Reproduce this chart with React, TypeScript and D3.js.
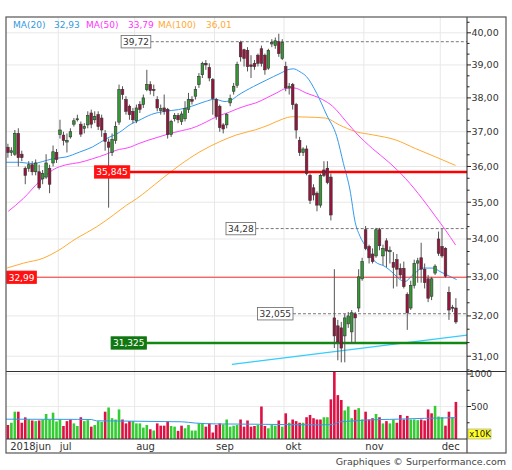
import React from 'react';
import * as d3 from 'd3';

// ---- DATA ----
// trading days from 2018-06-11 to 2018-12-07, index 0..129
const opens = [36.55,36.40,36.35,36.95,36.35,35.95,35.95,36.05,35.85,35.85,35.65,35.70,35.95,36.10,36.40,
36.92,36.90,36.70,36.85,37.22,37.35,37.22,37.10,37.20,37.55,37.35,37.50,37.40,36.95,36.70,36.40,36.75,37.28,38.25,37.95,37.75,37.60,
37.32,37.80,37.80,38.25,38.40,38.25,37.95,37.62,37.70,37.66,36.92,37.38,37.48,37.30,37.38,37.66,37.95,38.05,38.40,38.70,39.05,38.92,38.55,
37.95,37.75,37.20,37.20,37.85,38.20,38.38,39.70,39.47,39.45,39.00,39.05,39.30,39.50,39.30,38.90,39.65,39.60,39.72,39.20,
38.95,38.30,38.40,37.80,36.75,36.40,36.50,35.75,35.40,35.25,34.92,35.90,35.95,35.70,31.95,31.75,31.70,31.50,31.80,31.60,32.05,32.20,32.95,
34.25,33.80,33.60,33.55,34.25,33.55,33.95,33.66,33.38,33.45,33.22,33.22,32.55,32.20,32.78,33.36,33.50,33.20,32.95,32.50,33.10,34.00,
33.80,33.75,32.60,32.22,32.20];
const highs = [36.65,36.55,37.05,37.10,36.45,36.00,36.15,36.15,36.20,36.05,35.90,36.35,36.05,36.60,36.50,
37.35,37.00,36.95,37.10,37.40,37.50,37.30,37.25,37.60,37.65,37.60,37.60,37.50,37.05,36.80,36.95,37.30,38.40,38.35,38.05,37.80,37.70,
37.80,37.90,38.10,38.85,38.50,38.40,38.05,37.80,38.10,37.70,37.35,37.55,37.55,37.60,37.90,38.15,38.05,38.35,38.75,39.10,39.15,39.05,38.60,
38.00,37.80,37.25,37.55,38.10,38.45,39.10,39.75,39.50,39.55,39.30,39.15,39.35,39.60,39.35,39.50,39.80,39.85,39.97,39.80,
39.10,38.45,38.45,37.85,36.85,36.55,36.60,35.80,35.50,35.30,35.80,36.15,36.15,35.80,33.20,31.90,31.85,32.05,32.10,32.15,32.10,33.20,33.50,
34.35,33.85,33.75,34.30,34.30,33.85,34.02,33.80,33.65,33.60,33.35,33.40,32.60,32.90,33.45,33.50,33.90,33.35,33.05,33.00,33.33,34.20,
34.28,33.78,32.75,32.28,32.45];
const lows = [36.25,36.30,36.30,36.00,36.15,35.50,35.85,35.75,35.75,35.35,35.50,35.65,35.25,36.00,36.10,
36.80,36.60,36.40,36.80,37.15,37.30,36.85,36.95,37.10,37.10,37.25,37.05,36.85,36.45,34.85,36.30,36.65,37.20,37.95,37.50,37.35,37.25,
37.25,37.55,37.70,38.20,38.10,38.05,37.60,37.50,37.50,36.80,36.85,37.30,37.25,37.20,37.30,37.55,37.80,37.95,38.30,38.60,38.85,38.50,37.50,
37.35,37.00,36.95,37.10,37.75,38.10,38.30,39.10,38.95,38.80,38.60,38.85,38.95,38.95,38.70,38.85,39.55,39.50,39.25,39.15,
38.20,38.10,37.65,36.80,36.30,36.30,35.75,34.95,35.05,34.75,34.85,35.70,35.50,34.50,31.20,30.90,30.85,30.85,31.70,31.30,31.30,32.10,32.90,
33.70,33.35,33.35,33.50,33.70,33.30,33.25,33.35,32.70,32.75,32.95,32.70,31.65,32.15,32.70,32.85,32.85,32.70,32.35,32.40,33.05,33.55,
33.50,32.98,31.90,32.10,31.80];
const closes = [36.40,36.45,36.95,36.25,36.25,35.75,36.05,35.85,36.10,35.40,35.80,36.10,35.50,36.42,36.20,
37.05,36.75,36.75,37.00,37.32,37.38,36.93,37.15,37.48,37.22,37.45,37.15,37.05,36.72,36.55,36.78,37.15,38.25,38.10,37.60,37.50,37.35,
37.70,37.66,38.00,38.40,38.22,38.22,37.70,37.68,37.60,36.92,37.30,37.48,37.35,37.52,37.68,37.95,37.90,38.25,38.65,39.05,39.00,38.60,37.98,
37.45,37.12,37.08,37.50,37.98,38.35,39.02,39.25,39.20,38.95,38.95,38.95,39.05,39.05,38.85,39.45,39.70,39.75,39.35,39.70,
38.30,38.35,37.80,37.05,36.40,36.50,35.80,35.05,35.20,34.92,35.75,35.75,35.55,34.65,31.50,31.35,31.20,31.95,32.00,32.08,31.95,33.00,33.40,
33.75,33.50,33.40,34.25,33.82,33.75,33.68,33.70,33.25,33.20,33.05,32.75,32.08,32.78,33.35,33.42,33.20,32.85,32.45,32.95,33.28,33.62,
33.55,33.02,32.15,32.20,31.85];

// volume in x10K and its direction (g = up, r = down)
const volumes = [215,250,420,420,250,333,300,285,275,285,300,385,300,405,270,300,200,275,300,240,200,335,275,290,190,215,275,265,420,485,
320,300,455,300,240,275,275,240,240,175,215,150,130,240,205,205,275,200,190,125,205,165,215,130,130,240,240,190,240,100,215,240,225,300,
190,205,215,300,190,285,190,200,
215,500,200,165,215,205,285,190,395,250,300,275,250,250,335,370,320,300,300,335,335,610,1035,675,600,440,500,320,450,475,300,420,300,320,
385,335,240,275,240,300,250,370,300,355,300,300,290,300,285,455,395,510,345,335,205,420,335,570];
const volumeDir = 'rggrrrgrgrggggggrrrggrggrgggrggggrrrgggggrgrrrrggrrggggggrrrrrgggggrrrrr' +
  'grrgggrgrgrrrgrrrrrggrrrrgggrggrrrgrgrggrrrrgggrrrrgggrrgr';

// moving averages: [day index, value]
const ma20: [number, number][] = [[-0.5,36.12],[3.3,36.12],[7.1,36.08],[10,36.14],[12.9,36.22],[16.7,36.27],[20.6,36.41],[24.4,36.56],
[28.2,36.79],[32.1,36.98],[35.4,37.22],[37.5,37.32],[41.4,37.51],[45.2,37.60],[49.1,37.65],[52.9,37.75],[56.8,37.89],[59.6,37.96],
[62.5,37.89],[64.4,37.94],[66.3,38.08],[70.7,38.34],[74.5,38.54],[78.4,38.74],[81.2,38.87],[82.2,38.88],[84.1,38.79],[86,38.64],
[88.9,38.14],[91.8,37.49],[94.7,36.86],[96.6,36.09],[98.5,35.34],[100,34.45],[101.4,34.07],[103.1,33.79],[105.7,33.40],[108.6,33.27],
[110.9,33.10],[112.9,32.93],[114.3,32.88],[116.6,33.05],[119.5,33.23],[122.4,33.23],[124.4,33.14],[126.4,33.05],[129.2,32.93]];
const ma50: [number, number][] = [[0.1,34.75],[4.4,35.10],[9,35.57],[12.9,35.90],[16.8,36.05],[20.5,36.11],[24.4,36.22],[28.3,36.35],
[31.1,36.46],[35.4,36.56],[37.5,36.65],[43.2,36.84],[46.1,36.93],[50,37.03],[52.9,37.10],[55.8,37.22],[58.7,37.37],[60.5,37.46],
[63.4,37.56],[66.2,37.68],[69.7,37.80],[71.4,37.85],[74.5,38.00],[77.4,38.15],[80,38.28],[82.3,38.30],[85.8,38.15],[90.6,37.95],
[93.5,37.75],[97.3,37.31],[100.2,36.97],[105,36.51],[109.7,36.12],[114.5,35.66],[119.3,35.10],[123.2,34.60],[126,34.24],[128.9,33.84]];
const ma100: [number, number][] = [[-0.3,33.23],[4.5,33.36],[10.2,33.49],[14.1,33.67],[19.8,34.02],[25.6,34.33],[30.4,34.65],[34.2,34.92],
[37.1,35.10],[43.8,35.61],[49.5,36.04],[55.3,36.42],[61,36.71],[65.9,36.91],[71.4,37.06],[75.2,37.20],[79.1,37.37],[81.9,37.44],
[85.8,37.43],[91.5,37.40],[95.4,37.20],[100.2,37.00],[105,36.91],[111.7,36.76],[117.4,36.51],[123.2,36.27],[128.9,36.03]];
const volMa: [number, number][] = [[-0.5,305],[10,303],[20,302],[24,300],[25.5,280],[35,275],[45,268],[50,265],[54,245],[60,232],
[70,228],[80,222],[90,218],[93.5,222],[95.5,262],[100,280],[103,292],[110,302],[120,318],[129,328]];
const trendLine: [number, number][] = [[64.5,30.80],[132.2,31.52]];

const legendNames = ['MA(20)', 'MA(50)', 'MA(100)'];
const legendValues = ['32,93', '33,79', '36,01'];

// horizontal levels: value, label, start day index, kind
const levelValues = [39.72, 35.845, 34.28, 32.99, 32.055, 31.325];
const levelLabels = ['39,72', '35,845', '34,28', '32,99', '32,055', '31,325'];
const levelStart = [32.6, 24.9, 62.8, -0.35, 71.9, 29.7];
const levelKind = ['dash', 'redThick', 'dash', 'redThin', 'dash', 'greenThick'];

const monthLabels = ['2018jun', 'jul', 'aug', 'sep', 'okt', 'nov', 'dec'];
const monthStart = [0, 15, 37, 60, 80, 103, 125];
const priceTicks = [31, 32, 33, 34, 35, 36, 37, 38, 39, 40];
const volTicks = [500, 1000];

const FONT = 'DejaVu Sans, Verdana, sans-serif';

export default function App() {
  const N = closes.length;
  const L = 6, R = 467, T = 17, MB = 371.5, VB = 439, DB = 453, FR = 506;
  const x = d3.scaleLinear().domain([0, N - 1]).range([7.9, 455.9]);
  const y = d3.scaleLog().domain([31, 40]).range([356.2, 32.8]);
  const yv = d3.scaleLinear().domain([0, 1000]).range([VB, 374]);
  const fmt = (v: number) => d3.format('.2f')(v).replace('.', ',');

  const lineP = d3.line<[number, number]>().x(d => x(d[0])).y(d => y(d[1])).curve(d3.curveMonotoneX);
  const lineV = d3.line<[number, number]>().x(d => x(d[0])).y(d => yv(d[1])).curve(d3.curveMonotoneX);

  const bw = 2.6;
  const minor: number[] = [];
  for (let k = 30; k <= 40; k++) { minor.push(k + 1 / 3, k + 2 / 3); }
  const [ymin, ymax] = [y.invert(MB), y.invert(T)];

  const textW = (s: string) => s.split('').reduce((a, c) => a + (c === ',' ? 2.9 : 5.7), 0);

  return (
    <svg width={512} height={470} style={{ position: 'absolute', left: 0, top: 0, background: '#fff' }} fontFamily={FONT}>
      <defs>
        <clipPath id="cmain"><rect x={L} y={T} width={R - L} height={MB - T} /></clipPath>
        <clipPath id="cvol"><rect x={L} y={MB} width={R - L} height={VB - MB} /></clipPath>
      </defs>
      <rect x={0} y={0} width={512} height={470} fill="#fff" />
      {/* grid */}
      {priceTicks.map(t => <line key={'hg' + t} x1={L} x2={R} y1={y(t)} y2={y(t)} stroke="#e8e8e8" strokeWidth={1} />)}
      {volTicks.map(t => <line key={'vg' + t} x1={L} x2={R} y1={yv(t)} y2={yv(t)} stroke="#ececec" strokeWidth={1} />)}
      {monthStart.slice(1).map(m => <line key={'vgl' + m} x1={x(m - 0.5)} x2={x(m - 0.5)} y1={T} y2={VB} stroke="#e8e8e8" strokeWidth={1} />)}

      <g clipPath="url(#cmain)">
        {/* MAs */}
        <path d={lineP(ma100) || ''} fill="none" stroke="#ffaa33" strokeWidth={1} />
        <path d={lineP(ma50) || ''} fill="none" stroke="#ff44ff" strokeWidth={1} />
        <path d={lineP(ma20) || ''} fill="none" stroke="#3399ee" strokeWidth={1} />
        <line x1={x(trendLine[0][0])} y1={y(trendLine[0][1])} x2={x(trendLine[1][0])} y2={y(trendLine[1][1])} stroke="#33ccff" strokeWidth={1.3} />
        {/* levels */}
        {levelValues.map((v, i) => {
          const kind = levelKind[i];
          const bx = x(levelStart[i]);
          const w = textW(levelLabels[i]) + 4;
          const ly = y(v);
          const stroke = kind === 'dash' ? '#777' : kind === 'greenThick' ? '#118811' : kind === 'redThick' ? '#ff0000' : '#ff3333';
          const sw = kind === 'dash' ? 1 : kind === 'redThin' ? 1 : 2.5;
          return (
            <line key={'lv' + i} x1={bx + w} x2={R} y1={ly} y2={ly} stroke={stroke} strokeWidth={sw} strokeDasharray={kind === 'dash' ? '3,2' : undefined} />
          );
        })}
        {/* candles */}
        {closes.map((c, i) => {
          const o = opens[i];
          const up = c >= o;
          const top = y(Math.max(o, c));
          const bot = y(Math.min(o, c));
          return (
            <g key={'c' + i}>
              <line x1={x(i)} x2={x(i)} y1={y(highs[i])} y2={y(lows[i])} stroke="#555" strokeWidth={1} />
              <rect x={x(i) - bw / 2} y={top} width={bw} height={Math.max(1, bot - top)} fill={up ? '#339933' : '#99143c'} stroke="#333" strokeWidth={0.6} />
            </g>
          );
        })}
        {/* level label boxes */}
        {levelValues.map((v, i) => {
          const kind = levelKind[i];
          const bx = x(levelStart[i]);
          const w = textW(levelLabels[i]) + 4;
          const ly = y(v);
          const fill = kind === 'dash' ? '#fff' : kind === 'greenThick' ? '#117711' : '#ff1111';
          const tc = kind === 'dash' ? '#333' : '#fff';
          return (
            <g key={'lb' + i}>
              <rect x={bx} y={ly - 6.2} width={w} height={12.4} fill={fill} stroke={kind === 'dash' ? '#666' : fill} strokeWidth={0.8} />
              <text x={bx + 2} y={ly + 3.4} fontSize={9} fill={tc}>{levelLabels[i]}</text>
            </g>
          );
        })}
      </g>

      {/* volume */}
      <g clipPath="url(#cvol)">
        {volumes.map((v, i) => (
          <rect key={'v' + i} x={x(i) - bw / 2} y={yv(v)} width={bw} height={VB - yv(v)} fill={volumeDir[i] === 'g' ? '#33cc33' : '#dd1144'} />
        ))}
        <path d={lineV(volMa) || ''} fill="none" stroke="#3399ee" strokeWidth={1} />
      </g>

      {/* legend */}
      {legendNames.map((n, i) => {
        const col = ['#3399dd', '#ff33ff', '#ffaa33'][i];
        const xs = [13, 86, 158][i];
        const xv = [54, 128, 206][i];
        return (
          <g key={'lg' + i} fontSize={9} fill={col}>
            <text x={xs} y={28}>{n}</text>
            <text x={xv} y={28}>{legendValues[i]}</text>
          </g>
        );
      })}

      {/* price axis */}
      {priceTicks.map(t => (
        <g key={'pt' + t}>
          <line x1={R} x2={R + 4} y1={y(t)} y2={y(t)} stroke="#222" strokeWidth={1} />
          <text x={R + 4.5} y={y(t) + 3.3} fontSize={9.5} fill="#333">{fmt(t)}</text>
        </g>
      ))}
      {minor.filter(m => m > ymin && m < ymax).map((m, i) => (
        <line key={'mt' + i} x1={R} x2={R + 2.5} y1={y(m)} y2={y(m)} stroke="#222" strokeWidth={1} />
      ))}
      {volTicks.map(t => (
        <g key={'vt' + t}>
          <line x1={R} x2={R + 4} y1={yv(t)} y2={yv(t)} stroke="#222" strokeWidth={1} />
          <text x={R + (t >= 1000 ? 2 : 4)} y={yv(t) + 3.3} fontSize={9} fill="#333">{t}</text>
        </g>
      ))}
      {[250, 750].map(t => <line key={'vm' + t} x1={R} x2={R + 2.5} y1={yv(t)} y2={yv(t)} stroke="#222" strokeWidth={1} />)}
      <rect x={468} y={429} width={23} height={10} fill="#ffff22" stroke="#999" strokeWidth={0.6} />
      <text x={469.3} y={437.3} fontSize={8.5} fill="#222">x10K</text>

      {/* month labels */}
      {monthLabels.map((m, i) => (
        <text key={'ml' + i} x={x(monthStart[i] - 0.5) + (i === 0 ? 4 : 1.5)} y={450} fontSize={10} fill="#333">{m}</text>
      ))}

      {/* frame & dividers */}
      <line x1={L} x2={FR} y1={MB} y2={MB} stroke="#333" strokeWidth={1} />
      <line x1={L} x2={R} y1={VB} y2={VB} stroke="#333" strokeWidth={1} />
      <line x1={R} x2={R} y1={T} y2={DB} stroke="#222" strokeWidth={1} />
      <rect x={L} y={T} width={FR - L} height={DB - T} fill="none" stroke="#555" strokeWidth={1.2} />

      <text x={506} y={465} fontSize={9.5} fill="#444" textAnchor="end">Graphiques © Surperformance.com</text>
    </svg>
  );
}
